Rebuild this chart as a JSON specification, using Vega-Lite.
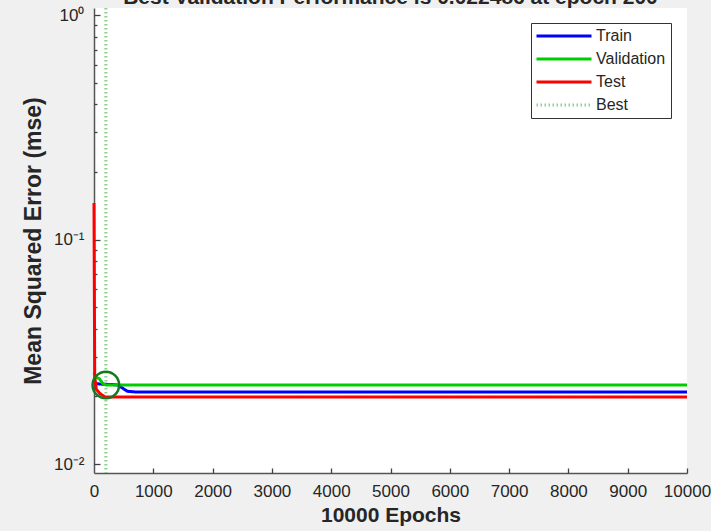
{
  "$schema": "https://vega.github.io/schema/vega-lite/v6.json",
  "width": 593,
  "height": 465,
  "autosize": {"type": "none"},
  "padding": {"left": 94, "top": 8, "right": 24, "bottom": 58},
  "background": "#f0f0f0",
  "title": {
    "text": "Best Validation Performance is 0.022486 at epoch 200",
    "fontSize": 21,
    "fontWeight": "bold",
    "color": "#262626",
    "font": "Liberation Sans",
    "anchor": "middle",
    "frame": "group",
    "offset": -2
  },
  "config": {
    "view": {"fill": "#ffffff", "stroke": null},
    "font": "Liberation Sans",
    "axis": {
      "grid": false,
      "domainColor": "#555555",
      "domainWidth": 1.5,
      "tickColor": "#404040",
      "tickWidth": 1.3,
      "labelColor": "#262626",
      "titleColor": "#262626",
      "labelFont": "Liberation Sans",
      "titleFont": "Liberation Sans",
      "labelFontSize": 17,
      "titleFontSize": 21,
      "titleFontWeight": "bold"
    }
  },
  "resolve": {"axis": {"x": "independent", "y": "independent"}},
  "datasets": {
    "perf": [
      {"epoch": 0, "mse": 0.0229, "series": "Train"},
      {"epoch": 100, "mse": 0.0227, "series": "Train"},
      {"epoch": 300, "mse": 0.0226, "series": "Train"},
      {"epoch": 400, "mse": 0.0225, "series": "Train"},
      {"epoch": 560, "mse": 0.0211, "series": "Train"},
      {"epoch": 700, "mse": 0.02093, "series": "Train"},
      {"epoch": 10000, "mse": 0.02093, "series": "Train"},
      {"epoch": 0, "mse": 0.0255, "series": "Validation"},
      {"epoch": 30, "mse": 0.0244, "series": "Validation"},
      {"epoch": 90, "mse": 0.0240, "series": "Validation"},
      {"epoch": 150, "mse": 0.0228, "series": "Validation"},
      {"epoch": 200, "mse": 0.02249, "series": "Validation"},
      {"epoch": 10000, "mse": 0.02249, "series": "Validation"},
      {"epoch": 0, "mse": 0.1455, "series": "Test"},
      {"epoch": 12, "mse": 0.0245, "series": "Test"},
      {"epoch": 40, "mse": 0.0215, "series": "Test"},
      {"epoch": 100, "mse": 0.0206, "series": "Test"},
      {"epoch": 185, "mse": 0.0199, "series": "Test"},
      {"epoch": 300, "mse": 0.01988, "series": "Test"},
      {"epoch": 10000, "mse": 0.01988, "series": "Test"}
    ],
    "best": [{"epoch": 200, "series": "Best"}],
    "bestpt": [{"epoch": 200, "mse": 0.02249}]
  },
  "layer": [
    {
      "data": {"name": "best"},
      "mark": {"type": "rule"},
      "encoding": {
        "x": {
          "field": "epoch",
          "type": "quantitative",
          "scale": {"domain": [0, 10000], "nice": false, "zero": false},
          "title": "10000 Epochs",
          "axis": {
            "orient": "bottom",
            "values": [0, 1000, 2000, 3000, 4000, 5000, 6000, 7000, 8000, 9000, 10000],
            "format": "d",
            "ticks": false,
            "labelPadding": 10,
            "labelFlush": false,
            "labelOverlap": false,
            "titlePadding": 5
          }
        },
        "color": {
          "field": "series",
          "type": "nominal",
          "scale": {"domain": ["Train", "Validation", "Test", "Best"], "range": ["#0000ff", "#00cc00", "#ff0000", "#8fcf8f"]},
          "legend": {
            "title": null,
            "orient": "none",
            "legendX": 437,
            "legendY": 15,
            "fillColor": "#ffffff",
            "strokeColor": "#333333",
            "padding": 5,
            "symbolType": "M-5,0H5",
            "symbolSize": 121,
            "symbolOffset": 20,
            "labelOffset": 24,
            "labelFontSize": 16,
            "labelColor": "#262626",
            "labelFont": "Liberation Sans",
            "rowPadding": 7
          }
        },
        "strokeDash": {
          "field": "series",
          "type": "nominal",
          "scale": {"domain": ["Train", "Validation", "Test", "Best"], "range": [[1, 0], [1, 0], [1, 0], [1.5, 2.5]]}
        },
        "strokeWidth": {
          "field": "series",
          "type": "nominal",
          "scale": {"domain": ["Train", "Validation", "Test", "Best"], "range": [3, 3, 3, 1.2]}
        }
      }
    },
    {
      "data": {"name": "perf"},
      "mark": {"type": "line"},
      "encoding": {
        "x": {
          "field": "epoch",
          "type": "quantitative",
          "axis": {
            "orient": "bottom",
            "offset": -5,
            "tickSize": 5,
            "values": [1000, 2000, 3000, 4000, 5000, 6000, 7000, 8000, 9000, 10000],
            "labels": false,
            "domain": false,
            "title": null
          }
        },
        "y": {
          "field": "mse",
          "type": "quantitative",
          "scale": {"type": "log", "domain": [0.00912, 1.0745], "nice": false},
          "title": "Mean Squared Error  (mse)",
          "axis": {
            "orient": "left",
            "values": [0.01, 0.1, 1],
            "labelExpr": "datum.value > 0.99 ? '10⁰' : (abs(datum.value - 0.1) < 0.001 ? '10⁻¹' : '10⁻²')",
            "ticks": false,
            "labelPadding": 10,
            "labelOverlap": false,
            "labelFlush": false,
            "titlePadding": 8,
            "titleFontSize": 23
          }
        },
        "color": {"field": "series", "type": "nominal"},
        "strokeDash": {"field": "series", "type": "nominal"},
        "strokeWidth": {"field": "series", "type": "nominal"}
      }
    },
    {
      "data": {"name": "bestpt"},
      "mark": {"type": "point", "filled": false, "size": 707, "strokeWidth": 2.5, "color": "#137a1f", "opacity": 1},
      "encoding": {
        "x": {"field": "epoch", "type": "quantitative", "axis": null},
        "y": {
          "field": "mse",
          "type": "quantitative",
          "axis": {
            "orient": "left",
            "offset": -6,
            "tickSize": 6,
            "values": [0.01, 0.1, 1],
            "labels": false,
            "domain": false,
            "title": null
          }
        }
      }
    },
    {
      "data": {"name": "bestpt"},
      "mark": {"type": "point", "opacity": 0},
      "encoding": {
        "x": {"field": "epoch", "type": "quantitative", "axis": null},
        "y": {
          "field": "mse",
          "type": "quantitative",
          "axis": {
            "orient": "left",
            "offset": -3,
            "tickSize": 3,
            "values": [0.02, 0.03, 0.04, 0.05, 0.06, 0.07, 0.08, 0.09, 0.2, 0.3, 0.4, 0.5, 0.6, 0.7, 0.8, 0.9],
            "labels": false,
            "domain": false,
            "title": null
          }
        }
      }
    }
  ]
}
